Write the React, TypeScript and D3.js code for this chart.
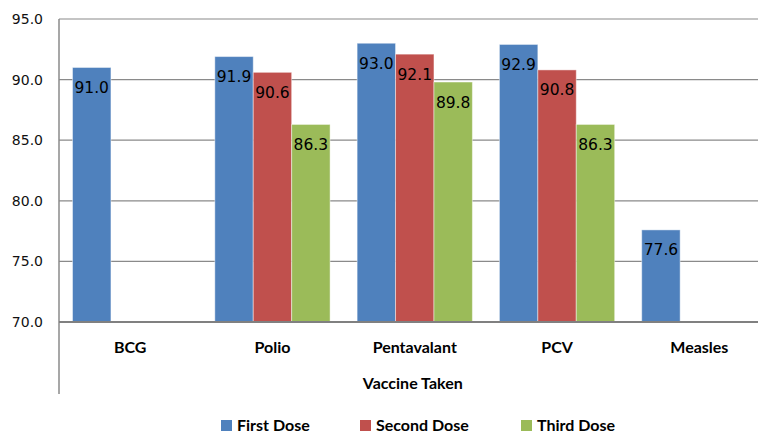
import React, { useRef, useEffect } from "react";
import * as d3 from "d3";

const categories = ["BCG", "Polio", "Pentavalant", "PCV", "Measles"];
const series = ["First Dose", "Second Dose", "Third Dose"];
const firstDose = [91.0, 91.9, 93.0, 92.9, 77.6];
const secondDose = [null, 90.6, 92.1, 90.8, null];
const thirdDose = [null, 86.3, 89.8, 86.3, null];
const yTicks = [70, 75, 80, 85, 90, 95];
const colors = ["#4F81BD", "#C0504D", "#9BBB59"];

const App = () => {
  const svgRef = useRef<SVGSVGElement>(null);

  useEffect(() => {
    if (!svgRef.current) return;

    const width = 758;
    const height = 436;
    const left = 59;
    const top = 19;
    const bottom = 322;
    const right = 770.5;

    const svg = d3.select(svgRef.current).attr("width", width).attr("height", height);
    svg.selectAll("*").remove();

    const valueFont = "'DejaVu Sans', Verdana, sans-serif";
    const labelFont = "Lato, 'Open Sans', sans-serif";

    const y = d3.scaleLinear().domain([70, 95]).range([bottom, top]);
    const x0 = d3
      .scaleBand()
      .domain(categories)
      .range([left, right])
      .paddingInner(0.19)
      .paddingOuter(0.095);
    const x1 = d3.scaleBand().domain(series).range([0, x0.bandwidth()]);

    // gridlines
    svg
      .append("g")
      .selectAll("line")
      .data(yTicks.filter((d) => d > 70))
      .join("line")
      .attr("x1", left)
      .attr("x2", width)
      .attr("y1", (d) => y(d))
      .attr("y2", (d) => y(d))
      .attr("stroke", "#8a8a8a")
      .attr("stroke-width", 1.2);

    // tick labels
    svg
      .append("g")
      .selectAll("text")
      .data(yTicks)
      .join("text")
      .attr("x", 43)
      .attr("y", (d) => y(d))
      .attr("dy", "0.36em")
      .attr("text-anchor", "end")
      .style("font-family", valueFont)
      .style("font-size", "14px")
      .attr("fill", "#111")
      .text((d) => d3.format(".1f")(d));

    // bars
    const rows = categories.map((c, i) => ({
      cat: c,
      vals: [firstDose[i], secondDose[i], thirdDose[i]],
    }));

    const groups = svg
      .append("g")
      .selectAll("g")
      .data(rows)
      .join("g")
      .attr("transform", (d) => `translate(${x0(d.cat)},0)`);

    const items = groups
      .selectAll("g")
      .data((d) =>
        d.vals
          .map((v, j) => ({ v, s: series[j], j }))
          .filter((e) => e.v !== null)
      )
      .join("g");

    items
      .append("rect")
      .attr("x", (d) => x1(d.s)!)
      .attr("width", x1.bandwidth())
      .attr("y", (d) => y(d.v as number))
      .attr("height", (d) => bottom - y(d.v as number))
      .attr("fill", (d) => colors[d.j])
      .attr("stroke", "#ffffff")
      .attr("stroke-opacity", 0.45)
      .attr("stroke-width", 1);

    items
      .append("text")
      .attr("x", (d) => x1(d.s)! + x1.bandwidth() / 2)
      .attr("y", (d) => y(d.v as number) + 25.5)
      .attr("text-anchor", "middle")
      .style("font-family", valueFont)
      .style("font-size", "15.5px")
      .attr("fill", "#000")
      .text((d) => d3.format(".1f")(d.v as number));

    // axes
    svg
      .append("line")
      .attr("x1", left)
      .attr("x2", left)
      .attr("y1", top)
      .attr("y2", 394)
      .attr("stroke", "#8a8a8a")
      .attr("stroke-width", 1.5);

    svg
      .append("line")
      .attr("x1", left)
      .attr("x2", width)
      .attr("y1", bottom)
      .attr("y2", bottom)
      .attr("stroke", "#808080")
      .attr("stroke-width", 2);

    // category labels
    svg
      .append("g")
      .selectAll("text")
      .data(categories)
      .join("text")
      .attr("x", (d) => x0(d)! + x0.bandwidth() / 2)
      .attr("y", 347)
      .attr("dy", "0.36em")
      .attr("text-anchor", "middle")
      .style("font-family", labelFont)
      .style("font-weight", "bold")
      .style("font-size", "16px")
      .text((d) => d);

    svg
      .append("text")
      .attr("x", (left + right) / 2 - 2)
      .attr("y", 383)
      .attr("dy", "0.36em")
      .attr("text-anchor", "middle")
      .style("font-family", labelFont)
      .style("font-weight", "bold")
      .style("font-size", "16px")
      .text("Vaccine Taken");

    // legend
    const legendX = [221, 360, 521];
    const legend = svg
      .append("g")
      .selectAll("g")
      .data(series)
      .join("g")
      .attr("transform", (d, i) => `translate(${legendX[i]},420)`);

    legend
      .append("rect")
      .attr("width", 11)
      .attr("height", 11)
      .attr("fill", (d, i) => colors[i]);

    legend
      .append("text")
      .attr("x", 16)
      .attr("y", 5.5)
      .attr("dy", "0.36em")
      .style("font-family", labelFont)
      .style("font-weight", "bold")
      .style("font-size", "16px")
      .text((d) => d);
  }, []);

  return (
    <svg
      ref={svgRef}
      style={{ position: "absolute", left: 0, top: 0, background: "#fff" }}
    ></svg>
  );
};

export default App;
